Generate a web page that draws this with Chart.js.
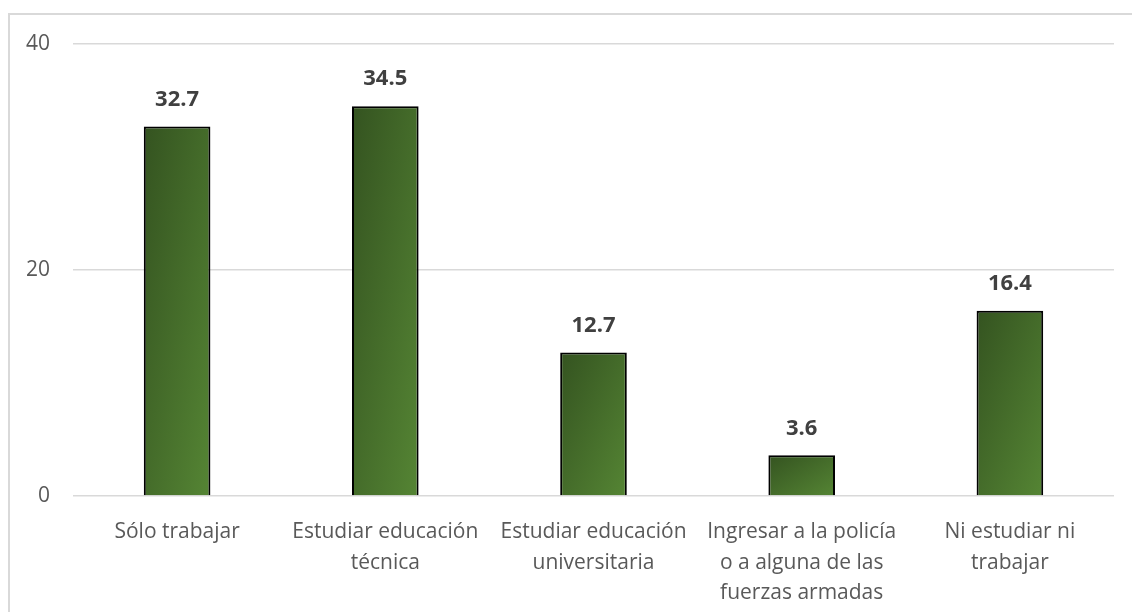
<!DOCTYPE html>
<html>
<head>
<meta charset="utf-8">
<script src="https://cdn.jsdelivr.net/npm/chart.js@4.4.1/dist/chart.umd.min.js"></script>
<style>
  html, body { margin: 0; padding: 0; background: #fff; }
  #wrap { width: 1132px; height: 612px; position: relative; }
</style>
</head>
<body>
<div id="wrap"><canvas id="myChart" width="1132" height="612"></canvas></div>
<script>
// categories (multi-line as in the original)
const categories = [
  ["Sólo trabajar"],
  ["Estudiar educación", "técnica"],
  ["Estudiar educación", "universitaria"],
  ["Ingresar a la policía", "o a alguna de las", "fuerzas armadas"],
  ["Ni estudiar ni", "trabajar"],
];
const values = [32.7, 34.5, 12.7, 3.6, 16.4];
const yTicks = [0, 20, 40];

const FONT = "'Open Sans', 'Noto Sans', sans-serif";
const BAR_PCT = 0.32;

// gradient scaled with the bar: dark top-left corner to lighter bottom-right corner
function barGradient(ctx) {
  const chart = ctx.chart;
  const area = chart.chartArea;
  if (!area || ctx.dataIndex === undefined) return "#456f28";
  const xs = chart.scales.x, ys = chart.scales.y;
  const cx = xs.getPixelForValue(ctx.dataIndex);
  const half = (xs.width / categories.length) * BAR_PCT / 2;
  const top = ys.getPixelForValue(values[ctx.dataIndex]);
  const bottom = ys.getPixelForValue(0);
  const w = half * 2, h = Math.max(1, bottom - top);
  const k = (2 * w * h) / (w * w + h * h);
  const x0 = cx - half, y0 = top;
  const g = chart.ctx.createLinearGradient(x0, y0, x0 + h * k, y0 + w * k);
  g.addColorStop(0, "#345320");
  g.addColorStop(1, "#558534");
  return g;
}

// light gray frame around the chart
const framePlugin = {
  id: "frame",
  beforeDraw(chart) {
    const c = chart.ctx;
    c.save();
    c.strokeStyle = "#d9d9d9";
    c.lineWidth = 2;
    c.strokeRect(9, 14, 2000, 2000);
    c.restore();
  },
};

// value labels above bars
const labelPlugin = {
  id: "valueLabels",
  afterDatasetsDraw(chart) {
    const c = chart.ctx;
    const meta = chart.getDatasetMeta(0);
    c.save();
    c.font = "bold 22px " + FONT;
    c.fillStyle = "#404040";
    c.textAlign = "center";
    c.textBaseline = "middle";
    meta.data.forEach((bar, i) => {
      c.fillText(values[i].toFixed(1), bar.x, bar.y - 27);
    });
    c.restore();
  },
};

const ctx = document.getElementById("myChart").getContext("2d");
new Chart(ctx, {
  type: "bar",
  data: {
    labels: categories,
    datasets: [
      {
        data: values,
        backgroundColor: barGradient,
        borderColor: "#000000",
        borderWidth: 2,
        borderSkipped: "bottom",
        barPercentage: BAR_PCT,
        categoryPercentage: 1,
      },
    ],
  },
  options: {
    responsive: false,
    animation: false,
    layout: { padding: { left: 0, right: 18, top: 44, bottom: 0 } },
    plugins: {
      legend: { display: false },
      tooltip: { enabled: false },
    },
    scales: {
      x: {
        grid: { display: false },
        border: { display: false },
        ticks: {
          color: "#595959",
          font: { family: FONT, size: 21, lineHeight: 1.45 },
          padding: 13,
          maxRotation: 0,
          autoSkip: false,
        },
        afterFit(scale) { scale.height = 116; },
      },
      y: {
        min: 0,
        max: 40,
        afterBuildTicks(scale) { scale.ticks = yTicks.map(v => ({ value: v })); },
        grid: { color: "#d9d9d9", lineWidth: 1.5, drawTicks: false },
        border: { display: false },
        ticks: {
          color: "#595959",
          font: { family: FONT, size: 21 },
          padding: 23,
        },
        afterFit(scale) { scale.width = 73; },
      },
    },
  },
  plugins: [framePlugin, labelPlugin],
});
</script>
</body>
</html>
